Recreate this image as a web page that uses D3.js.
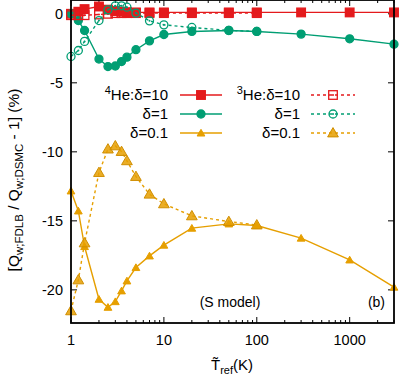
<!DOCTYPE html>
<html>
<head>
<meta charset="utf-8">
<script src="https://d3js.org/d3.v7.min.js"></script>
<style>
  body { margin: 0; background: #fff; }
  text { font-family: "Liberation Sans", Arial, sans-serif; }
</style>
</head>
<body>
<script>
// temperatures (K)
let T4 = [1, 1.2, 1.4, 2, 2.5, 3, 3.5, 4, 5, 7, 10, 20, 50, 100, 300, 1000, 3000];
let T3 = [1, 1.2, 1.4, 2, 2.5, 3, 3.5, 4, 5, 7, 10, 20, 50, 100];

// 4He
let he4_d10  = [0.0, 0.15, 0.34, 0.53, 0.3, 0.2, 0.15, 0.12, 0.1, 0.1, 0.1, 0.1, 0.1, 0.1, 0.1, 0.1, 0.1];
let he4_d1   = [0.0, -0.49, -1.21, -3.28, -3.82, -3.78, -3.46, -3.14, -2.6, -1.96, -1.5, -1.28, -1.21, -1.28, -1.47, -1.81, -2.2];
let he4_d01  = [-12.83, -14.28, -16.86, -20.68, -21.26, -20.85, -20.07, -19.35, -18.38, -17.54, -16.76, -15.53, -15.22, -15.34, -16.25, -17.83, -19.8];
// 3He
let he3_d10  = [-0.1, -0.1, -0.1, -0.05, 0.0, 0.05, 0.05, 0.05, 0.05, 0.05, 0.05, 0.05, 0.05, 0.05];
let he3_d1   = [-3.09, -2.66, -2.0, -0.49, 0.29, 0.58, 0.58, 0.48, 0.05, -0.51, -0.8, -0.99, -1.2, -1.28];
let he3_d01  = [-21.52, -19.28, -16.6, -11.5, -9.8, -9.57, -9.98, -10.65, -11.79, -13.07, -13.77, -14.64, -15.05, -15.3];

let xTicks = [1, 10, 100, 1000];
let yTicks = [0, -5, -10, -15, -20];

let W = 399, H = 381;
let L = 71, R = 394, Tp = 0, B = 323;

let svg = d3.select("body").append("svg").attr("width", W).attr("height", H);

let x = d3.scaleLog().domain([1, 3000]).range([L, R]);
let y = d3.scaleLinear().domain([-22.4, 1.0]).range([B, Tp]);

let red = "#e41a1c", green = "#009e73", orange = "#e69f00";

// ticks
let minor = [];
[1, 10, 100, 1000].forEach(d => { for (let k = 2; k <= 9; k++) if (d * k <= 3000) minor.push(d * k); });
let tg = svg.append("g").attr("stroke", "#000").attr("stroke-width", 1);
xTicks.forEach(t => {
  tg.append("line").attr("x1", x(t)).attr("x2", x(t)).attr("y1", B).attr("y2", B - 6);
  tg.append("line").attr("x1", x(t)).attr("x2", x(t)).attr("y1", Tp).attr("y2", Tp + 6);
});
minor.forEach(t => {
  tg.append("line").attr("x1", x(t)).attr("x2", x(t)).attr("y1", B).attr("y2", B - 3);
  tg.append("line").attr("x1", x(t)).attr("x2", x(t)).attr("y1", Tp).attr("y2", Tp + 3);
});
yTicks.forEach(t => {
  tg.append("line").attr("x1", L).attr("x2", L + 6).attr("y1", y(t)).attr("y2", y(t));
  tg.append("line").attr("x1", R).attr("x2", R - 6).attr("y1", y(t)).attr("y2", y(t));
});

svg.selectAll(".xl").data(xTicks).enter().append("text")
  .attr("x", d => x(d)).attr("y", 345).attr("text-anchor", "middle")
  .attr("font-size", 14.5).text(d => d);
svg.selectAll(".yl").data(yTicks).enter().append("text")
  .attr("x", L - 8).attr("y", d => y(d) + 5).attr("text-anchor", "end")
  .attr("font-size", 14.5).text(d => d);

// markers
function marker(g, type, open, color, cx, cy) {
  let s = 4.3;
  if (type === "sq") {
    g.append("rect").attr("x", cx - s).attr("y", cy - s).attr("width", 2 * s).attr("height", 2 * s)
      .attr("fill", open ? "none" : color).attr("stroke", color).attr("stroke-width", 1.3);
    if (open) g.append("circle").attr("cx", cx).attr("cy", cy).attr("r", 1).attr("fill", color);
  } else if (type === "ci") {
    g.append("circle").attr("cx", cx).attr("cy", cy).attr("r", 4)
      .attr("fill", open ? "none" : color).attr("stroke", color).attr("stroke-width", 1.3);
    if (open) g.append("circle").attr("cx", cx).attr("cy", cy).attr("r", 1).attr("fill", color);
  } else {
    // 4He: small filled triangle; 3He: larger filled triangle with outline
    let tri = d3.symbol().type(d3.symbolTriangle).size(open ? 50 : 26);
    g.append("path").attr("d", tri()).attr("transform", `translate(${cx},${cy + 0.8})`)
      .attr("fill", color).attr("fill-opacity", open ? 0.85 : 1)
      .attr("stroke", open ? "#d08e00" : color).attr("stroke-width", 1);
  }
}

let line = d3.line().x(d => x(d[0])).y(d => y(d[1]));
let series = [
  {T: T4, v: he4_d10, c: red, m: "sq", open: false},
  {T: T4, v: he4_d1, c: green, m: "ci", open: false},
  {T: T4, v: he4_d01, c: orange, m: "tr", open: false},
  {T: T3, v: he3_d10, c: red, m: "sq", open: true},
  {T: T3, v: he3_d1, c: green, m: "ci", open: true},
  {T: T3, v: he3_d01, c: orange, m: "tr", open: true}
];
let plot = svg.append("g");
series.forEach(s => {
  let pts = s.T.map((t, i) => [t, s.v[i]]);
  plot.append("path").attr("d", line(pts)).attr("fill", "none").attr("stroke", s.c)
    .attr("stroke-width", 1.4).attr("stroke-dasharray", s.open ? "3,3" : null);
  let g = plot.append("g");
  pts.forEach(p => marker(g, s.m, s.open, s.c, x(p[0]), y(p[1])));
});

// legend
let leg = svg.append("g");
let rowsY = [95, 114, 133];
let legL = [
  {c: red, m: "sq", lab: "He:\u03b4=10", sup: "4"},
  {c: green, m: "ci", lab: "\u03b4=1"},
  {c: orange, m: "tr", lab: "\u03b4=0.1"}
];
let legR = [
  {c: red, m: "sq", lab: "He:\u03b4=10", sup: "3"},
  {c: green, m: "ci", lab: "\u03b4=1"},
  {c: orange, m: "tr", lab: "\u03b4=0.1"}
];
function legText(xe, yy, it) {
  let t = leg.append("text").attr("x", xe).attr("y", yy + 5).attr("text-anchor", "end").attr("font-size", 15);
  if (it.sup) t.append("tspan").attr("font-size", 11).attr("dy", -6).text(it.sup);
  t.append("tspan").attr("dy", it.sup ? 6 : 0).text(it.lab);
}
legL.forEach((it, i) => {
  let yy = rowsY[i];
  legText(168, yy, it);
  leg.append("line").attr("x1", 180).attr("x2", 222).attr("y1", yy).attr("y2", yy)
    .attr("stroke", it.c).attr("stroke-width", 1.4);
  marker(leg, it.m, false, it.c, 201, yy);
});
legR.forEach((it, i) => {
  let yy = rowsY[i];
  legText(300, yy, it);
  leg.append("line").attr("x1", 311).attr("x2", 355).attr("y1", yy).attr("y2", yy)
    .attr("stroke", it.c).attr("stroke-width", 1.4).attr("stroke-dasharray", "3,3");
  marker(leg, it.m, true, it.c, 333, yy);
});

// frame
svg.append("rect").attr("x", L).attr("y", Tp).attr("width", R - L).attr("height", B - Tp)
  .attr("fill", "none").attr("stroke", "#000").attr("stroke-width", 1.8);

svg.append("text").attr("x", 230).attr("y", 307).attr("text-anchor", "middle").attr("font-size", 14).text("(S model)");
svg.append("text").attr("x", 385).attr("y", 307).attr("text-anchor", "end").attr("font-size", 14).text("(b)");

// axis titles
let xt = svg.append("text").attr("x", 232).attr("y", 370).attr("text-anchor", "middle").attr("font-size", 15);
xt.append("tspan").text("T\u0303");
xt.append("tspan").attr("font-size", 11).attr("dy", 4).text("ref");
xt.append("tspan").attr("dy", -4).text("(K)");

let yt = svg.append("text").attr("transform", "translate(19,180) rotate(-90)")
  .attr("text-anchor", "middle").attr("font-size", 15.5);
yt.append("tspan").text("[Q");
yt.append("tspan").attr("font-size", 11.5).attr("dy", 4).text("w;FDLB");
yt.append("tspan").attr("dy", -4).text(" / Q");
yt.append("tspan").attr("font-size", 11.5).attr("dy", 4).text("w;DSMC");
yt.append("tspan").attr("dy", -4).text(" - 1] (%)");
</script>
</body>
</html>
